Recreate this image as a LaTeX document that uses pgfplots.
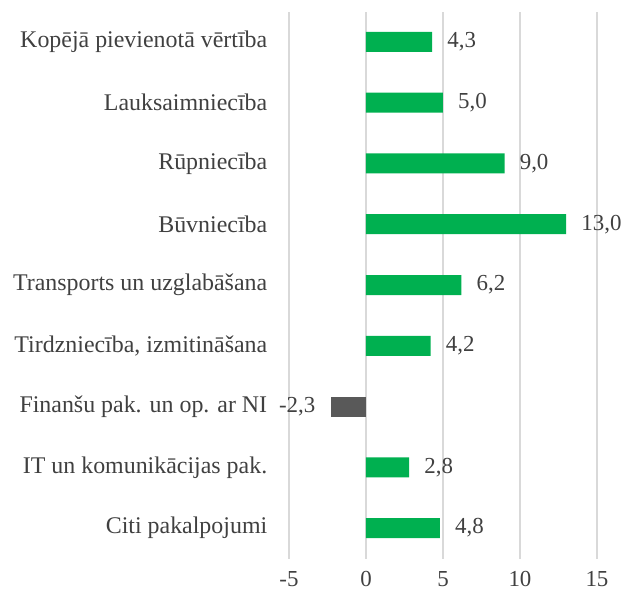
\documentclass[border=0pt]{standalone}
\usepackage{fontspec}
\setmainfont{Liberation Serif}
\usepackage{pgfplots}
\pgfplotsset{compat=1.18}
\definecolor{bargreen}{HTML}{00B050}
\definecolor{bargray}{HTML}{595959}
\definecolor{gridgray}{HTML}{D9D9D9}
\definecolor{txt}{HTML}{404040}
\begin{document}
\begin{tikzpicture}
\path[use as bounding box] (-289bp,-35.5bp) rectangle (338bp,558.5bp);
\begin{axis}[
  scale only axis,
  width=308bp, height=547bp,
  xbar, bar width=20bp, bar shift=0pt,
  xmin=-5, xmax=15,
  ymin=-0.5, ymax=8.5,
  xtick={-5,0,5,10,15},
  ytick={0,...,8},
  yticklabels={Citi pakalpojumi, IT un komunikācijas pak., {Finanšu pak. un op. ar NI}, {Tirdzniecība, izmitināšana}, Transports un uzglabāšana, Būvniecība, Rūpniecība, Lauksaimniecība, Kopējā pievienotā vērtība},
  axis line style={draw=none},
  major tick style={draw=none},
  xmajorgrids, major grid style={gridgray, line width=1.2bp},
  yticklabel style={txt, font=\fontsize{24}{28}\selectfont, xshift=-14bp},
  xticklabel style={txt, font=\fontsize{23}{27}\selectfont, yshift=-9bp},
  /pgf/number format/assume math mode=true,
  /pgf/number format/use comma,
  /pgf/number format/fixed,
  /pgf/number format/fixed zerofill,
  /pgf/number format/precision=1,
  nodes near coords,
  nodes near coords style={txt, font=\fontsize{23}{27}\selectfont, inner sep=15bp},
  xticklabel={\pgfmathprintnumber[precision=0,fixed zerofill=false]{\tick}},
]
\addplot[fill=bargreen, draw=none] coordinates {
  (4.8,0) (2.8,1) (4.2,3) (6.2,4) (13.0,5) (9.0,6) (5.0,7) (4.3,8)
};
\addplot[fill=bargray, draw=none] coordinates {
  (-2.3,2)
};
\end{axis}
\end{tikzpicture}
\end{document}
